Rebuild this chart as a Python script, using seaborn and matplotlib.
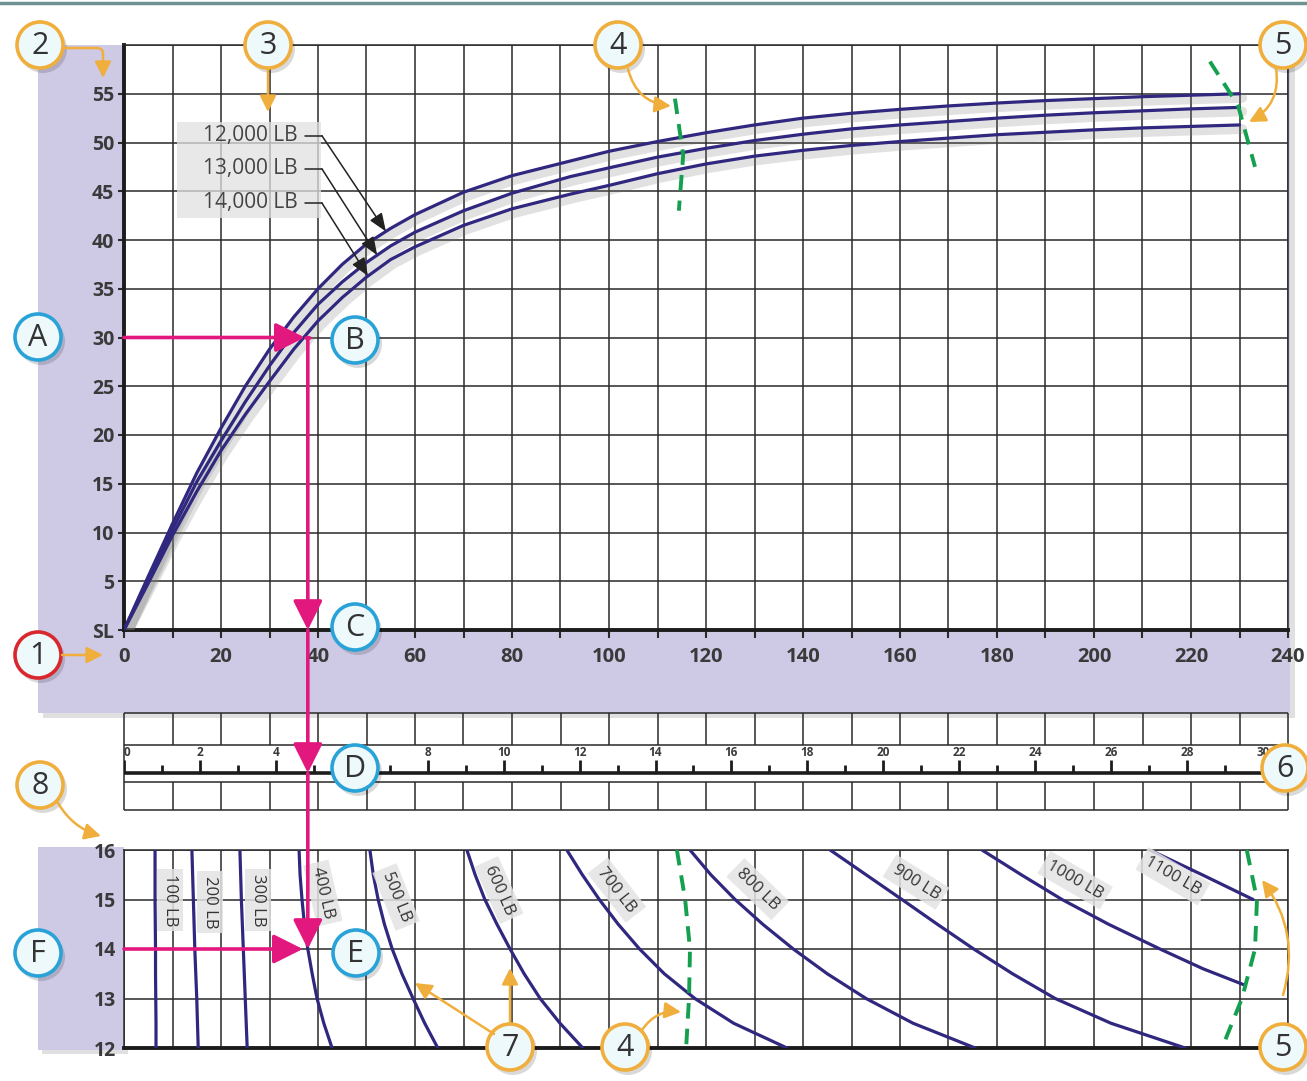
import numpy as np
import matplotlib
matplotlib.use("Agg")
import matplotlib.pyplot as plt
import matplotlib.patheffects as pe
import seaborn as sns
from matplotlib.patches import Circle, Rectangle

# ===============================
# Data
# ===============================

# upper chart: three weight curves (x on a 0..240 scale, y altitude, SL = 0)
weight_names = ["12,000 LB", "13,000 LB", "14,000 LB"]
dist_pts = [0, 5, 10, 15, 20, 25, 30, 35, 40, 45, 50, 55, 60, 70, 80, 92, 100,
            110, 120, 130, 140, 150, 160, 170, 180, 190, 200, 210, 220, 230]
alt_12k = [0, 5.5, 10.9, 16.1, 20.7, 25.0, 28.8, 32.1, 35.0, 37.5, 39.6, 41.2, 42.6,
           44.9, 46.6, 48.1, 49.1, 50.1, 51.0, 51.8, 52.5, 53.0, 53.4, 53.75, 54.05,
           54.3, 54.5, 54.7, 54.85, 55.0]
alt_13k = [0, 5.2, 10.3, 15.2, 19.4, 23.4, 27.1, 30.5, 33.4, 35.7, 37.7, 39.4, 40.8,
           43.0, 44.8, 46.5, 47.4, 48.5, 49.4, 50.2, 50.85, 51.4, 51.8, 52.15, 52.5,
           52.8, 53.05, 53.25, 53.45, 53.6]
alt_14k = [0, 4.8, 9.7, 14.2, 18.4, 22.1, 25.5, 28.8, 31.7, 34.1, 36.2, 38.0, 39.3,
           41.5, 43.2, 44.7, 45.6, 46.8, 47.8, 48.6, 49.2, 49.7, 50.1, 50.45, 50.8,
           51.05, 51.3, 51.5, 51.65, 51.8]
weight_arrow_dist = [54, 52.2, 50.3]

y_ticks_top = [0, 5, 10, 15, 20, 25, 30, 35, 40, 45, 50, 55]
y_labels_top = ["SL", "5", "10", "15", "20", "25", "30", "35", "40", "45", "50", "55"]
x_ticks_top = [0, 20, 40, 60, 80, 100, 120, 140, 160, 180, 200, 220, 240]

# lower chart: load lines (x on the same 0..240 scale, y 12..16)
load_names = ["100 LB", "200 LB", "300 LB", "400 LB", "500 LB", "600 LB",
              "700 LB", "800 LB", "900 LB", "1000 LB", "1100 LB"]
load_levels = [16, 15.5, 15, 14.5, 14, 13.5, 13, 12.5, 12]
load_100 = [6.4, 6.4, 6.4, 6.45, 6.5, 6.5, 6.55, 6.6, 6.6]
load_200 = [14.0, 14.15, 14.3, 14.45, 14.6, 14.8, 15.0, 15.15, 15.3]
load_300 = [23.9, 24.05, 24.2, 24.4, 24.6, 24.8, 25.0, 25.2, 25.4]
load_400 = [36.1, 36.3, 36.7, 37.2, 37.9, 38.8, 39.8, 41.2, 42.9]
load_500 = [50.7, 51.4, 52.4, 53.7, 55.3, 57.3, 59.6, 62.0, 64.7]
load_600 = [70.7, 72.4, 74.4, 76.9, 79.6, 82.5, 85.8, 89.9, 94.6]
load_700 = [91.3, 94.5, 98.0, 101.9, 106.3, 111.4, 117.7, 125.7, 136.7]
load_800 = [116.7, 121.0, 126.0, 131.7, 138.0, 145.0, 153.0, 162.7, 175.5]
load_900 = [145.6, 153.0, 160.4, 167.7, 175.2, 183.2, 192.0, 203.5, 218.8]
load_1000 = [176.9, 185.0, 193.4, 203.0, 213.6, 222.5, 231.1]
load_1000_levels = [16, 15.5, 15, 14.5, 14, 13.6, 13.27]
load_1100 = [211.5, 222.3, 232.8]
load_1100_levels = [16, 15.5, 15]
y_ticks_bot = [12, 13, 14, 15, 16]

# green dashed limit lines
g4_top_dist = [113.6, 115.3, 114.4]
g4_top_alt = [54.5, 48.7, 43.0]
g5_top_dist = [223.9, 229.7, 233.2]
g5_top_alt = [58.3, 53.8, 47.5]
g_levels = [16, 15, 14, 13, 12]
g4_bot = [114.0, 115.7, 116.7, 116.5, 115.9]
g5_bot = [231.5, 233.6, 233.2, 230.5, 226.4]

# worked example (magenta path)
ex_alt = 30
ex_dist = 37.9
ex_level = 14

# middle ruler
ruler_vals = list(range(0, 31))
ruler_hidden = [6]  # label sits under the "D" callout
ruler_span = 30.66  # ruler units across the full chart width

# ===============================
# Style
# ===============================
W, H = 1307, 1081
PURPLE = "#30287f"
GRID = "#2a2a2a"
LAV = "#cec9e5"
MAG = "#e3187f"
GREEN = "#14a04f"
ORANGE = "#f0ae3c"
BLUE = "#29a2d8"
RED = "#d8282d"
TXT = "#3a3a3a"

sns.set_theme(style="white")
plt.rcParams["font.family"] = ["Open Sans", "DejaVu Sans"]

fig = plt.figure(figsize=(W / 100, H / 100), dpi=100)


def rect(x0, y0, x1, y1):
    return [x0 / W, 1 - y1 / H, (x1 - x0) / W, (y1 - y0) / H]


# background: lavender panels
bg = fig.add_axes([0, 0, 1, 1], zorder=0)
bg.set_xlim(0, W)
bg.set_ylim(H, 0)
bg.axis("off")
bg.plot([0, W], [3, 3], color="#6f9292", lw=2.5)
bg.add_patch(Rectangle((43, 50), 1252, 668, fc="#000000", alpha=0.12, ec="none"))
bg.add_patch(Rectangle((38, 45), 1252, 668, fc=LAV, ec="none"))
bg.add_patch(Rectangle((42, 851), 86, 203, fc="#000000", alpha=0.12, ec="none"))
bg.add_patch(Rectangle((38, 847), 86, 203, fc=LAV, ec="none"))

shadow = [pe.SimpleLineShadow(offset=(2, -3), shadow_color="#7a7a7a", alpha=0.22,
                              linewidth=7), pe.Normal()]

# ===============================
# Upper chart
# ===============================
ax_top = fig.add_axes(rect(124, 45, 1288, 630), zorder=2)
ax_top.set_facecolor("white")
ax_top.set_xlim(0, 240)
ax_top.set_ylim(0, 60)
ax_top.set_xticks(x_ticks_top)
ax_top.set_xticklabels([str(v) for v in x_ticks_top], fontweight="bold", color=TXT)
ax_top.set_xticks(np.arange(0, 241, 10), minor=True)
ax_top.set_yticks(y_ticks_top)
ax_top.set_yticklabels(y_labels_top, fontweight="bold", color=TXT)
ax_top.set_yticks([60], minor=True)
ax_top.grid(which="both", color=GRID, lw=1.1)
ax_top.set_axisbelow(True)
ax_top.tick_params(axis="x", which="both", bottom=True, length=6, width=1.5,
                   color=GRID, pad=6, labelsize=14.5)
ax_top.tick_params(axis="y", which="major", left=True, length=4, width=1.5,
                   color=GRID, pad=3, labelsize=14)
for side in ["left", "bottom"]:
    ax_top.spines[side].set_linewidth(2.8)
    ax_top.spines[side].set_color("#1c1c1c")
for side in ["top", "right"]:
    ax_top.spines[side].set_linewidth(1.1)
    ax_top.spines[side].set_color(GRID)

weight_alts = [alt_12k, alt_13k, alt_14k]
for a in weight_alts:
    sns.lineplot(x=dist_pts, y=a, ax=ax_top, color=PURPLE, lw=2.3, sort=False,
                 estimator=None, zorder=4, path_effects=shadow)

for d, a in [(g4_top_dist, g4_top_alt), (g5_top_dist, g5_top_alt)]:
    sns.lineplot(x=d, y=a, ax=ax_top, color=GREEN, lw=2.8, sort=False,
                 estimator=None, linestyle=(0, (4, 2.6)), zorder=5)

# weight labels with leader arrows
ax_top.add_patch(Rectangle((10.9, 42.3), 29.7, 9.8, fc="#e1e1e1", alpha=0.75,
                           ec="none", zorder=3))
label_alt = [50.7, 47.3, 43.8]
for name, la, td, a in zip(weight_names, label_alt, weight_arrow_dist, weight_alts):
    ax_top.text(35.9, la, name, ha="right", va="center", fontsize=15, color="#444444",
                zorder=6)
    ax_top.plot([37.3, 40.8], [la, la], color="#222222", lw=1.1, zorder=6)
    ax_top.annotate("", xy=(td, np.interp(td, dist_pts, a)), xytext=(40.8, la),
                    arrowprops=dict(arrowstyle="-|>,head_length=0.55,head_width=0.22",
                                    color="#222222", lw=1.1, shrinkA=0, shrinkB=0,
                                    mutation_scale=20), zorder=6)

# ===============================
# Middle ruler
# ===============================
ax_rule = fig.add_axes(rect(124, 713, 1288, 810), zorder=2)
ax_rule.set_facecolor("white")
ax_rule.set_xlim(0, ruler_span)
ax_rule.set_ylim(810, 713)
ax_rule.axis("off")
grid_r = np.arange(0, 241, 10) * ruler_span / 240
ax_rule.hlines([713, 745, 782, 810], 0, ruler_span, color=GRID, lw=1.1, clip_on=False)
ax_rule.vlines(grid_r, 713, 745, color=GRID, lw=1.1, clip_on=False)
ax_rule.vlines(grid_r, 782, 810, color=GRID, lw=1.1, clip_on=False)
ax_rule.vlines([0, ruler_span], 745, 782, color=GRID, lw=1.1, clip_on=False)
ax_rule.hlines(773, 0, ruler_vals[-1], color="#1c1c1c", lw=2.6)
for r in ruler_vals:
    top = 760 if r % 2 == 0 else 765
    ax_rule.vlines(r, top, 773, color="#1c1c1c", lw=2.0)
    if r % 2 == 0 and r not in ruler_hidden:
        ax_rule.text(r, 752, str(r), ha="left" if r == 0 else "center", va="center",
                     fontsize=8.5, fontweight="bold", color=TXT)

# ===============================
# Lower chart
# ===============================
ax_bot = fig.add_axes(rect(124, 850, 1288, 1048), zorder=2)
ax_bot.set_facecolor("white")
ax_bot.set_xlim(0, 240)
ax_bot.set_ylim(12, 16)
ax_bot.set_xticks(np.arange(0, 241, 10))
ax_bot.set_xticklabels([])
ax_bot.set_yticks(y_ticks_bot)
ax_bot.set_yticklabels([str(v) for v in y_ticks_bot], fontweight="bold", color=TXT)
ax_bot.grid(which="both", color=GRID, lw=1.1)
ax_bot.set_axisbelow(True)
ax_bot.tick_params(axis="x", length=0)
ax_bot.tick_params(axis="y", length=0, pad=6, labelsize=14)
for side in ["left", "top", "right"]:
    ax_bot.spines[side].set_linewidth(1.1)
    ax_bot.spines[side].set_color(GRID)
ax_bot.spines["bottom"].set_linewidth(2.8)
ax_bot.spines["bottom"].set_color("#1c1c1c")

load_curves = [(load_100, load_levels), (load_200, load_levels), (load_300, load_levels),
               (load_400, load_levels), (load_500, load_levels), (load_600, load_levels),
               (load_700, load_levels), (load_800, load_levels), (load_900, load_levels),
               (load_1000, load_1000_levels), (load_1100, load_1100_levels)]
for xs, ys in load_curves:
    sns.lineplot(x=xs, y=ys, ax=ax_bot, color=PURPLE, lw=2.3, sort=False,
                 estimator=None, zorder=4)

for xs in [g4_bot, g5_bot]:
    sns.lineplot(x=xs, y=g_levels, ax=ax_bot, color=GREEN, lw=2.8, sort=False,
                 estimator=None, linestyle=(0, (4, 2.6)), zorder=5)

label_x = [9.5, 17.7, 27.6, 41.0, 56.1, 77.3, 101.6, 130.7, 163.3, 196.1, 216.3]
label_y = [14.99, 14.95, 14.99, 15.13, 15.05, 15.19, 15.19, 15.21, 15.35, 15.39, 15.47]
label_rot = [-90, -90, -90, -77, -68, -66, -52, -44, -32, -30, -30]
for name, lx, ly, rot in zip(load_names, label_x, label_y, label_rot):
    ax_bot.text(lx, ly, name, rotation=rot, rotation_mode="anchor", ha="center",
                va="center", fontsize=12, color="#333333", zorder=6,
                bbox=dict(boxstyle="square,pad=0.3", fc="#e3e3e3", ec="none", alpha=0.85))

# ===============================
# Overlay: example path, callouts
# ===============================
ov = fig.add_axes([0, 0, 1, 1], zorder=5)
ov.set_xlim(0, W)
ov.set_ylim(H, 0)
ov.axis("off")
ov.patch.set_alpha(0)


def to_px(ax, x, y):
    return ov.transData.inverted().transform(ax.transData.transform((x, y)))


p_a = to_px(ax_top, 0, ex_alt)
p_b = to_px(ax_top, ex_dist, ex_alt)
p_c = to_px(ax_top, ex_dist, 0)
p_d = to_px(ax_rule, ex_dist * ruler_span / 240, 773)
p_e = to_px(ax_bot, ex_dist, ex_level)
p_f = to_px(ax_bot, 0, ex_level)

mag_arrow = dict(arrowstyle="-|>,head_length=0.9,head_width=0.45", color=MAG, lw=2.6,
                 shrinkA=0, shrinkB=0, mutation_scale=20)
ov.plot([p_b[0] - 2, p_b[0] + 2], [p_b[1], p_b[1]], color=MAG, lw=2.6)
ov.annotate("", xy=(p_b[0] - 3, p_b[1]), xytext=p_a, arrowprops=mag_arrow)
ov.annotate("", xy=p_c, xytext=p_b, arrowprops=mag_arrow)
ov.annotate("", xy=p_d, xytext=p_c, arrowprops=mag_arrow)
ov.annotate("", xy=p_e, xytext=p_d, arrowprops=mag_arrow)
ov.annotate("", xy=(p_e[0] - 5, p_e[1]), xytext=p_f, arrowprops=mag_arrow)

# orange callout leaders
callout_arrows = [
    ((62, 655), (103, 655), "arc3,rad=0"),
    ((64, 48), (103, 78), "angle,angleA=0,angleB=90,rad=6"),
    ((268, 69), (268, 112), "arc3,rad=0"),
    ((628, 69), (671, 106), "arc3,rad=0.35"),
    ((1276, 68), (1249, 122), "arc3,rad=-0.35"),
    ((58, 803), (101, 836), "arc3,rad=0.2"),
    ((494, 1034), (415, 983), "arc3,rad=0"),
    ((510, 1024), (510, 968), "arc3,rad=0"),
    ((642, 1030), (681, 1012), "arc3,rad=-0.3"),
    ((1283, 995), (1262, 880), "arc3,rad=0.25"),
]
for start, end, conn in callout_arrows:
    ov.annotate("", xy=end, xytext=start,
                arrowprops=dict(arrowstyle="-|>,head_length=0.7,head_width=0.35",
                                color=ORANGE, lw=1.8, shrinkA=0, shrinkB=0,
                                mutation_scale=14, connectionstyle=conn))

# numbered / lettered circles
callouts = [
    ("1", 38, 655, RED), ("2", 40, 45, ORANGE), ("3", 268, 45, ORANGE),
    ("4", 618, 45, ORANGE), ("5", 1283, 45, ORANGE), ("6", 1285, 768, ORANGE),
    ("7", 510, 1047, ORANGE), ("4", 625, 1047, ORANGE), ("5", 1283, 1047, ORANGE),
    ("8", 40, 785, ORANGE),
    ("A", 38, 337, BLUE), ("B", 355, 340, BLUE), ("C", 355, 627, BLUE),
    ("D", 355, 768, BLUE), ("E", 356, 953, BLUE), ("F", 38, 953, BLUE),
]
for lab, cx, cy, edge in callouts:
    ov.add_patch(Circle((cx + 3, cy + 4), 24, fc="#000000", alpha=0.15, ec="none"))
    ov.add_patch(Circle((cx, cy), 23, fc="#eef9fc", ec=edge, lw=2.6))
    ov.text(cx, cy + 1, lab, ha="center", va="center", fontsize=22, color="#333333")

fig.savefig("out.png", dpi=100)
